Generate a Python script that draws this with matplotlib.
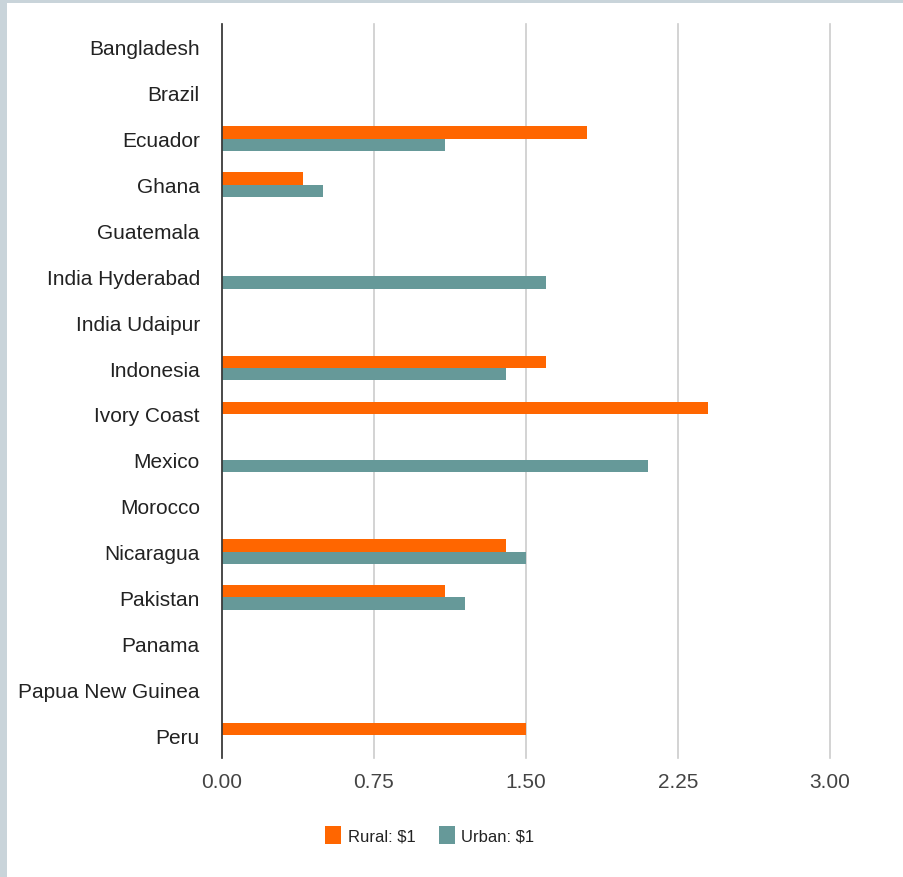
import numpy as np
import matplotlib
matplotlib.use("Agg")
import matplotlib.pyplot as plt
from matplotlib.patches import Patch, Rectangle

countries = ["Bangladesh", "Brazil", "Ecuador", "Ghana", "Guatemala",
             "India Hyderabad", "India Udaipur", "Indonesia", "Ivory Coast",
             "Mexico", "Morocco", "Nicaragua", "Pakistan", "Panama",
             "Papua New Guinea", "Peru"]
rural = [0, 0, 1.8, 0.4, 0, 0, 0, 1.6, 2.4, 0, 0, 1.4, 1.1, 0, 0, 1.5]
urban = [0, 0, 1.1, 0.5, 0, 1.6, 0, 1.4, 0, 2.1, 0, 1.5, 1.2, 0, 0, 0]
xticks = [0.0, 0.75, 1.5, 2.25, 3.0]

orange = "#FF6600"
teal = "#669999"

plt.rcParams['font.family'] = ['Liberation Sans', 'DejaVu Sans']

fig = plt.figure(figsize=(9.04, 8.78), dpi=100)
fig.patch.set_facecolor("#C9D4DA")
fig.patches.append(Rectangle((7/904, 0), 1, 1 - 4/878, transform=fig.transFigure,
                             facecolor="white", edgecolor="none", zorder=-5))

ax = fig.add_axes([222/904, 1 - 759/878, 608/904, 734/878])
ax.set_facecolor("none")

y = np.arange(len(countries))
h = 0.27
ax.barh(y - h/2, rural, height=h, color=orange, zorder=3)
ax.barh(y + h/2, urban, height=h, color=teal, zorder=3)

ax.set_xlim(0, 3.0)
ax.set_ylim(len(countries) - 0.5, -0.5)
ax.set_yticks(y)
ax.set_yticklabels(countries, fontsize=15, color="#222222")
ax.set_xticks(xticks)
ax.set_xticklabels(["%.2f" % v for v in xticks], fontsize=15, color="#444444")
ax.tick_params(axis='y', length=0, pad=16)
ax.tick_params(axis='x', length=0, pad=10)

for s in ["top", "right", "bottom"]:
    ax.spines[s].set_visible(False)
ax.spines["left"].set_color("#333333")
ax.spines["left"].set_linewidth(1.2)
ax.spines["left"].set_zorder(5)
ax.grid(axis='x', color="#CCCCCC", linewidth=1.2, zorder=1)
ax.grid(axis='y', visible=False)
for gl in ax.get_xgridlines():
    gl.set_clip_on(False)

handles = [Patch(facecolor=orange, label="Rural: $1"),
           Patch(facecolor=teal, label="Urban: $1")]
fig.legend(handles=handles, loc="center", bbox_to_anchor=(430/904, 1 - 836/878),
           ncol=2, frameon=False, fontsize=12, handlelength=0.95, handleheight=1.25,
           handletextpad=0.4, columnspacing=1.4, labelcolor="#222222")

fig.savefig("out.png", dpi=100, facecolor=fig.get_facecolor())
